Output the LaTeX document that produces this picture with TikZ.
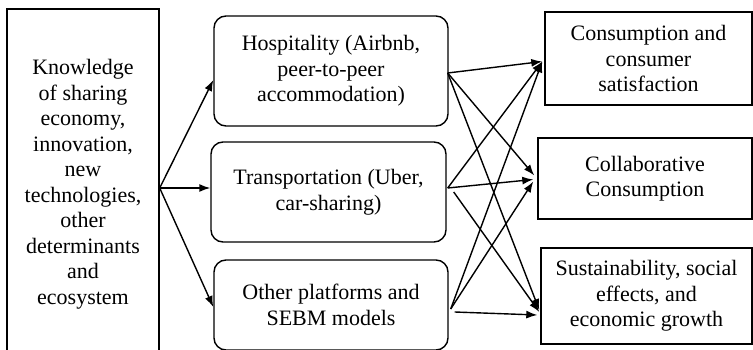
\documentclass[tikz,border=0pt]{standalone}
\usepackage{fontspec}
\setmainfont{Liberation Serif}
\usetikzlibrary{arrows.meta,calc}
\begin{document}
\begin{tikzpicture}[x=1pt,y=-1pt,
  box/.style={draw,line width=1.4pt,align=center,inner sep=0pt,font=\fontsize{22}{25.5}\selectfont},
  rbox/.style={box,rounded corners=12pt},
  arr/.style={-{Latex[length=11pt,width=8pt]},line width=1.4pt}]
\useasboundingbox (0,0) rectangle (753,350);
\node[box,minimum width=152pt,minimum height=350pt] (know) at (83,184)
  {Knowledge\\of sharing\\economy,\\innovation,\\new\\technologies,\\other\\determinants\\and\\ecosystem};
\node[rbox,minimum width=234pt,minimum height=110pt] (hosp) at (331,71)
  {Hospitality (Airbnb,\\peer-to-peer\\accommodation)};
\node[rbox,minimum width=235pt,minimum height=100pt] (trans) at (328.5,192)
  {Transportation (Uber,\\car-sharing)};
\node[rbox,minimum width=234pt,minimum height=90pt] (other) at (331,305)
  {Other platforms and\\SEBM models};
\node[box,minimum width=207pt,minimum height=93pt] (cons) at (648.5,58.5)
  {Consumption and\\consumer\\satisfaction};
\node[box,minimum width=214pt,minimum height=81pt] (collab) at (645,178.5)
  {Collaborative\\Consumption};
\node[box,minimum width=211pt,minimum height=96pt] (sust) at (646.5,296)
  {Sustainability, social\\effects, and\\economic growth};
% left fan
\coordinate (ks) at ($(know.east)+(0,4)$);
\draw[arr] (ks) -- ($(hosp.west)+(0,9)$);
\draw[arr] (ks) -- (ks -| trans.west);
\draw[arr] (ks) -- ($(other.west)+(0,2)$);
% from hospitality
\draw[arr] ($(hosp.east)+(-1,2)$) -- ($(cons.west)+(-2,3)$);
\draw[arr] ($(hosp.east)+(-1,2)$) -- ($(collab.west)+(-3,-3)$);
\draw[arr] ($(hosp.east)+(-1,2)$) -- ($(sust.west)+(-1,14)$);
% from transportation
\draw[arr] ($(trans.east)+(1,-4)$) -- ($(cons.west)+(-2,3)$);
\draw[arr] ($(trans.east)+(1,-4)$) -- ($(collab.west)+(-4,1)$);
\draw[arr] ($(trans.east)+(7,0)$) -- ($(sust.west)+(-1,16)$);
% from other
\draw[arr] ($(other.east)+(2,4)$) -- ($(cons.west)+(-2,3)$);
\draw[arr] ($(other.east)+(2,4)$) -- ($(collab.west)+(-4,3)$);
\draw[arr] ($(other.east)+(6,7)$) -- ($(sust.west)+(-3,19)$);
\end{tikzpicture}
\end{document}
